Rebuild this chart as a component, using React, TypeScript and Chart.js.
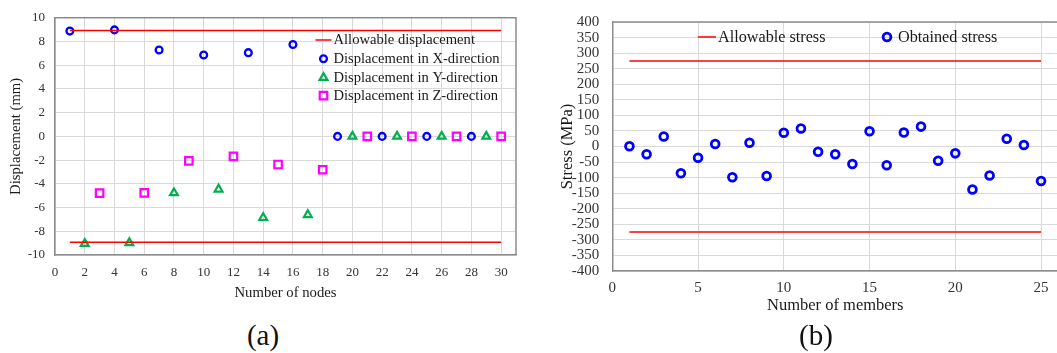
import React, { useEffect, useRef } from 'react';
import { Chart, registerables } from 'chart.js';

Chart.register(...registerables);

// ---------- Data: chart (a) ----------
const nodesX = [1, 4, 7, 10, 13, 16, 19, 22, 25, 28];
const dispX = [8.88, 8.98, 7.28, 6.86, 7.06, 7.75, 0, 0, 0, 0];
const nodesY = [2, 5, 8, 11, 14, 17, 20, 23, 26, 29];
const dispY = [-9.04, -8.97, -4.77, -4.46, -6.86, -6.61, 0, 0, 0, 0];
const nodesZ = [3, 6, 9, 12, 15, 18, 21, 24, 27, 30];
const dispZ = [-4.79, -4.77, -2.07, -1.68, -2.37, -2.81, 0, 0, 0, 0];
const allowableDisp = 8.92;
const nodeRange = [1, 30];

// ---------- Data: chart (b) ----------
const members = [1, 2, 3, 4, 5, 6, 7, 8, 9, 10, 11, 12, 13, 14, 15, 16, 17, 18, 19, 20, 21, 22, 23, 24, 25];
const stress = [1, -25, 32, -86, -36, 8, -99, 12, -95, 44, 58, -17, -25, -56, 49, -60, 45, 64, -46, -22, -138, -93, 25, 5, -111];
const allowableStress = 275;
const memberRange = [1, 25];

const FONT = "'Liberation Serif', 'Times New Roman', serif";
const BLUE = '#0000ff';
const GREEN = '#00b050';
const MAGENTA = '#ff00ff';
const RED = '#ff0000';
const GRID = '#d9d9d9';
const FRAME = '#8c8c8c';
const TICK = '#333333';
const TEXT = '#1a1a1a';

const pts = (xs: number[], ys: number[]) => xs.map((x, i) => ({ x, y: ys[i] }));

function drawMarker(ctx: CanvasRenderingContext2D, style: string, x: number, y: number, r: number, color: string, lw: number) {
  ctx.save();
  ctx.strokeStyle = color;
  ctx.lineWidth = lw;
  ctx.beginPath();
  if (style === 'circle') {
    ctx.arc(x, y, r, 0, Math.PI * 2);
  } else if (style === 'triangle') {
    ctx.moveTo(x, y - r);
    ctx.lineTo(x + 0.866 * r, y + 0.5 * r);
    ctx.lineTo(x - 0.866 * r, y + 0.5 * r);
    ctx.closePath();
  } else if (style === 'rect') {
    const s = r * Math.SQRT1_2;
    ctx.rect(x - s, y - s, 2 * s, 2 * s);
  } else if (style === 'line') {
    ctx.moveTo(x - r, y);
    ctx.lineTo(x + r, y);
  }
  ctx.stroke();
  ctx.restore();
}

type LegendItem = { style: string; color: string; r: number; lw: number; sx: number; sy: number; tx: number; text: string };

function makeFramePlugin(id: string, drawRight: boolean) {
  return {
    id,
    beforeDatasetsDraw(chart: any) {
      const { ctx, chartArea } = chart;
      ctx.save();
      ctx.strokeStyle = FRAME;
      ctx.lineWidth = 1.5;
      ctx.beginPath();
      ctx.moveTo(chartArea.left, chartArea.top);
      ctx.lineTo(chartArea.right, chartArea.top);
      if (drawRight) ctx.lineTo(chartArea.right, chartArea.bottom);
      ctx.stroke();
      ctx.restore();
    },
  };
}

function makeLegendPlugin(id: string, items: LegendItem[], fontSize: number) {
  return {
    id,
    afterDraw(chart: any) {
      const ctx = chart.ctx as CanvasRenderingContext2D;
      ctx.save();
      ctx.font = `${fontSize}px ${FONT}`;
      ctx.fillStyle = TEXT;
      ctx.textBaseline = 'middle';
      ctx.textAlign = 'left';
      for (const it of items) {
        drawMarker(ctx, it.style, it.sx, it.sy, it.r, it.color, it.lw);
        ctx.fillText(it.text, it.tx, it.sy + 0.5);
      }
      ctx.restore();
    },
  };
}

function keepMultiples(step: number) {
  return (scale: any) => {
    scale.ticks = scale.ticks.filter((t: any) => Math.abs(t.value % step) < 1e-9);
  };
}

function leftConfig(): any {
  const lineDs = (y: number, label: string) => ({
    label,
    data: [{ x: nodeRange[0], y }, { x: nodeRange[1], y }],
    showLine: true,
    borderColor: RED,
    borderWidth: 1.5,
    pointRadius: 0,
    fill: false,
  });
  const legendItems: LegendItem[] = [
    { style: 'line', color: RED, r: 8, lw: 1.5, sx: 323.5, sy: 40, tx: 333.5, text: 'Allowable displacement' },
    { style: 'circle', color: BLUE, r: 3.4, lw: 2.3, sx: 323.5, sy: 58.7, tx: 333.5, text: 'Displacement in X-direction' },
    { style: 'triangle', color: GREEN, r: 4.5, lw: 2.2, sx: 323.5, sy: 77.6, tx: 333.5, text: 'Displacement in Y-direction' },
    { style: 'rect', color: MAGENTA, r: 5.3, lw: 2.2, sx: 323.5, sy: 95.7, tx: 333.5, text: 'Displacement in Z-direction' },
  ];
  return {
    type: 'scatter',
    data: {
      datasets: [
        lineDs(allowableDisp, 'Allowable displacement'),
        lineDs(-allowableDisp, 'Allowable displacement (lower)'),
        {
          label: 'Displacement in X-direction',
          data: pts(nodesX, dispX),
          pointStyle: 'circle',
          pointRadius: 3.4,
          borderWidth: 2.3,
          borderColor: BLUE,
          backgroundColor: 'rgba(0,0,0,0)',
        },
        {
          label: 'Displacement in Y-direction',
          data: pts(nodesY, dispY),
          pointStyle: 'triangle',
          pointRadius: 4.5,
          borderWidth: 2.2,
          borderColor: GREEN,
          backgroundColor: 'rgba(0,0,0,0)',
        },
        {
          label: 'Displacement in Z-direction',
          data: pts(nodesZ, dispZ),
          pointStyle: 'rect',
          pointRadius: 5.3,
          borderWidth: 2.2,
          borderColor: MAGENTA,
          backgroundColor: 'rgba(0,0,0,0)',
        },
      ],
    },
    options: {
      responsive: false,
      animation: false,
      events: [],
      layout: { autoPadding: false, padding: { left: 0, top: 14.5, right: 14, bottom: 0 } },
      plugins: { legend: { display: false }, tooltip: { enabled: false } },
      scales: {
        x: {
          type: 'linear',
          min: 0,
          max: 31,
          afterBuildTicks: keepMultiples(2),
          afterFit: (s: any) => { s.height = 55; },
          ticks: { stepSize: 2, includeBounds: false, autoSkip: false, font: { family: FONT, size: 13 }, color: TICK, padding: 10, maxRotation: 0 },
          grid: { color: GRID, drawTicks: false, lineWidth: 1 },
          border: { color: FRAME, width: 1.5 },
          title: { display: true, text: 'Number of nodes', font: { family: FONT, size: 14.7 }, color: TEXT, padding: { top: 0, bottom: 8 } },
        },
        y: {
          type: 'linear',
          min: -10,
          max: 10,
          afterFit: (s: any) => { s.width = 55; },
          ticks: { stepSize: 2, includeBounds: false, autoSkip: false, font: { family: FONT, size: 13 }, color: TICK, padding: 10 },
          grid: { color: GRID, drawTicks: false, lineWidth: 1 },
          border: { color: FRAME, width: 1.5 },
          title: { display: true, text: 'Displacement (mm)', font: { family: FONT, size: 14.7 }, color: TEXT, padding: { top: 7.3, bottom: 0 } },
        },
      },
    },
    plugins: [makeFramePlugin('frameA', true), makeLegendPlugin('legendA', legendItems, 14.6)],
  };
}

function rightConfig(): any {
  const lineDs = (y: number, label: string) => ({
    label,
    data: [{ x: memberRange[0], y }, { x: memberRange[1], y }],
    showLine: true,
    borderColor: RED,
    borderWidth: 1.5,
    pointRadius: 0,
    fill: false,
  });
  const legendItems: LegendItem[] = [
    { style: 'line', color: RED, r: 9, lw: 1.5, sx: 177, sy: 37, tx: 188, text: 'Allowable stress' },
    { style: 'circle', color: BLUE, r: 3.9, lw: 2.8, sx: 357, sy: 37, tx: 368, text: 'Obtained stress' },
  ];
  return {
    type: 'scatter',
    data: {
      datasets: [
        lineDs(allowableStress, 'Allowable stress'),
        lineDs(-allowableStress, 'Allowable stress (lower)'),
        {
          label: 'Obtained stress',
          data: pts(members, stress),
          pointStyle: 'circle',
          pointRadius: 3.9,
          borderWidth: 2.8,
          borderColor: BLUE,
          backgroundColor: 'rgba(0,0,0,0)',
        },
      ],
    },
    options: {
      responsive: false,
      animation: false,
      events: [],
      layout: { autoPadding: false, padding: { left: 0, top: 15, right: 1.8, bottom: 0 } },
      plugins: { legend: { display: false }, tooltip: { enabled: false } },
      scales: {
        x: {
          type: 'linear',
          min: 0,
          max: 26,
          afterBuildTicks: keepMultiples(5),
          afterFit: (s: any) => { s.height = 49; },
          ticks: { stepSize: 5, includeBounds: false, autoSkip: false, font: { family: FONT, size: 15 }, color: TICK, padding: 8, maxRotation: 0 },
          grid: { color: GRID, drawTicks: false, lineWidth: 1 },
          border: { color: FRAME, width: 1.5 },
          title: { display: true, text: 'Number of members', font: { family: FONT, size: 16.5 }, color: TEXT, padding: { top: 0, bottom: 4 } },
        },
        y: {
          type: 'linear',
          min: -400,
          max: 400,
          afterFit: (s: any) => { s.width = 82.3; },
          ticks: { stepSize: 50, includeBounds: false, autoSkip: false, font: { family: FONT, size: 15 }, color: TICK, padding: 13 },
          grid: { color: GRID, drawTicks: false, lineWidth: 1 },
          border: { color: FRAME, width: 1.5 },
          title: { display: true, text: 'Stress (MPa)', font: { family: FONT, size: 16.5 }, color: TEXT, padding: { top: 27.6, bottom: 0 } },
        },
      },
    },
    plugins: [makeFramePlugin('frameB', false), makeLegendPlugin('legendB', legendItems, 16.2)],
  };
}

const captionStyle = (cx: number): React.CSSProperties => ({
  position: 'absolute',
  left: cx - 60,
  width: 120,
  top: 320.5,
  textAlign: 'center',
  fontFamily: FONT,
  fontSize: 29,
  lineHeight: '29px',
  color: '#111',
});

export default function App() {
  const leftRef = useRef<HTMLCanvasElement>(null);
  const rightRef = useRef<HTMLCanvasElement>(null);

  useEffect(() => {
    const c1 = new Chart(leftRef.current as HTMLCanvasElement, leftConfig());
    const c2 = new Chart(rightRef.current as HTMLCanvasElement, rightConfig());
    return () => {
      c1.destroy();
      c2.destroy();
    };
  }, []);

  return (
    <div style={{ position: 'absolute', left: 0, top: 0, width: 1057, height: 353, overflow: 'hidden', background: '#fff' }}>
      <canvas ref={leftRef} width={530} height={310} style={{ position: 'absolute', left: 0, top: 0, width: 530, height: 310 }} />
      <canvas ref={rightRef} width={530} height={320} style={{ position: 'absolute', left: 530, top: 0, width: 530, height: 320 }} />
      <div style={captionStyle(263)}>(a)</div>
      <div style={captionStyle(816)}>(b)</div>
    </div>
  );
}
